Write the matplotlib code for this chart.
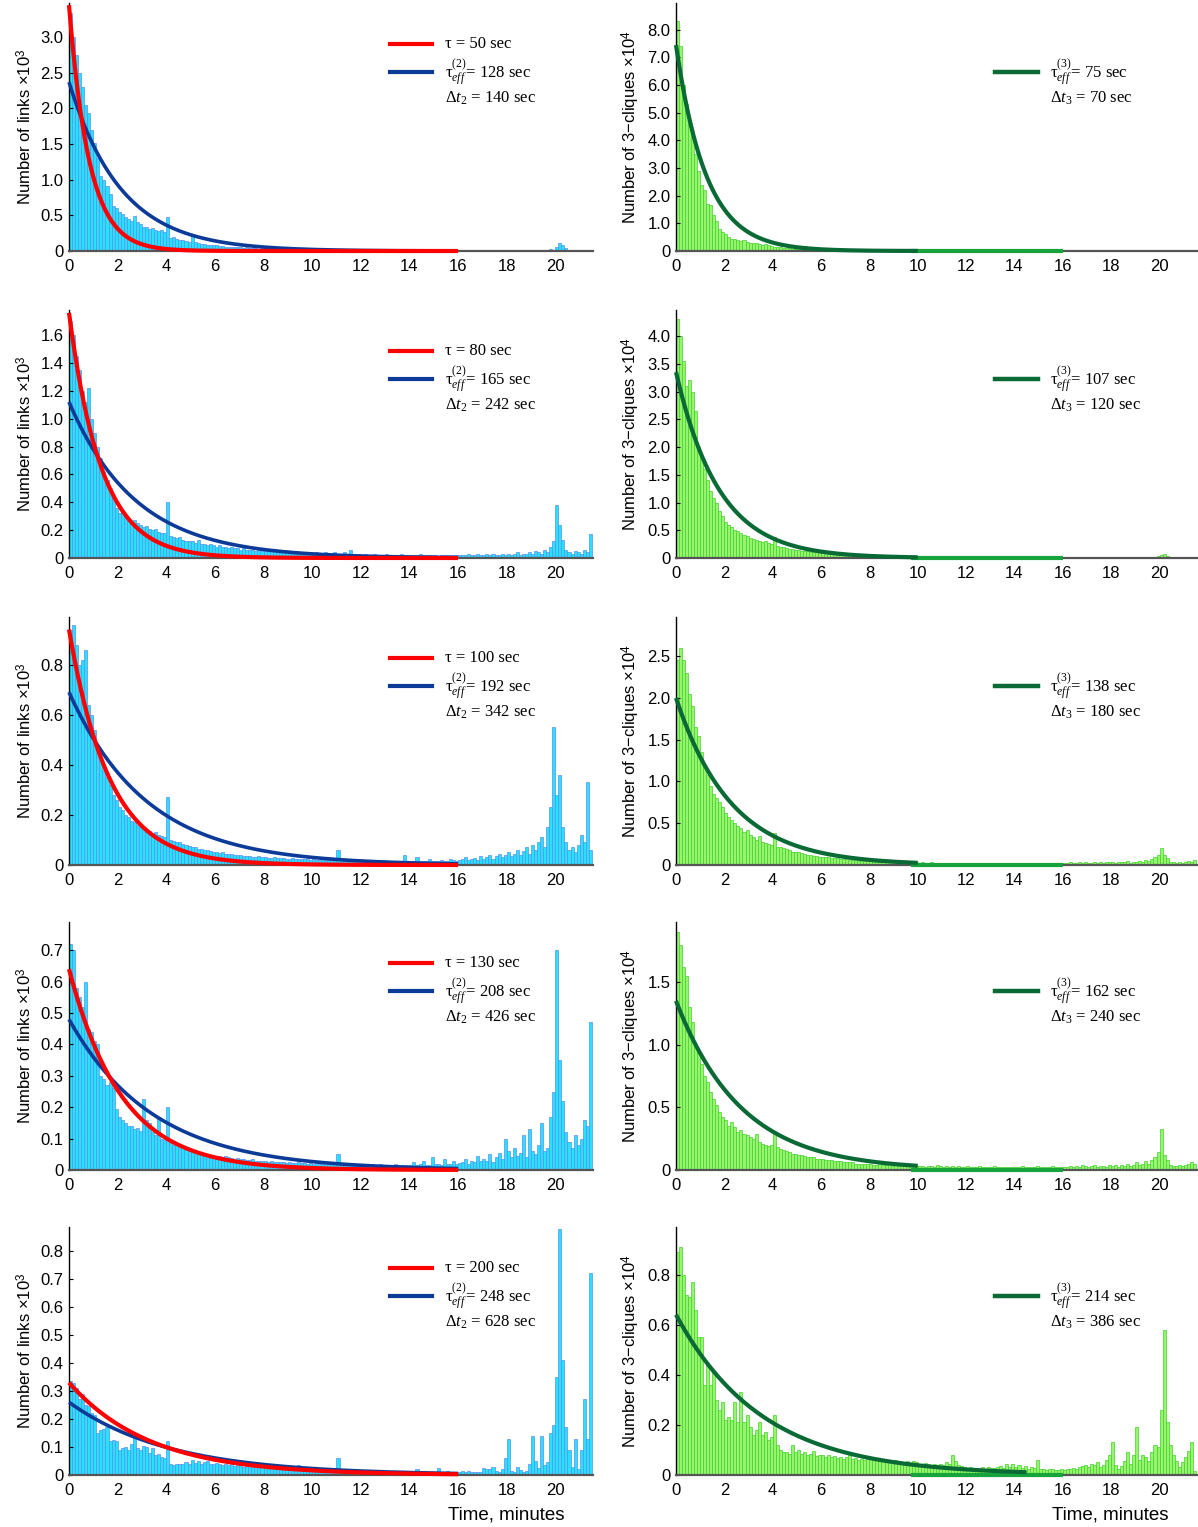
import numpy as np
import matplotlib
matplotlib.use('Agg')
import matplotlib.pyplot as plt

plt.rcParams['font.family'] = ['Liberation Sans', 'DejaVu Sans']
plt.rcParams['mathtext.fontset'] = 'custom'
plt.rcParams['mathtext.rm'] = 'Liberation Serif'
plt.rcParams['mathtext.it'] = 'Liberation Serif:italic'
plt.rcParams['mathtext.sf'] = 'Liberation Sans'

BIN = 0.125  # bin width, minutes

# ---- histogram heights, one list per panel ----
# left column: links, units of 0.01 (row 1,2) or 0.001 (rows 3-5) x10^3
links_50 = [334, 300, 275, 250, 230, 205, 194, 170, 152, 130, 105, 100, 91, 80, 63, 60,
            55, 52, 48, 45, 42, 49, 40, 38, 34, 33, 31, 32, 30, 28, 29, 27,
            48, 18, 20, 17, 16, 15, 14, 13, 21, 12, 11, 10, 10, 9, 9, 8,
            8, 7, 7, 6, 6, 5, 6, 5, 5, 4, 6, 4, 4, 4, 3, 4,
            3, 3, 3, 5, 3, 3, 2, 3, 2, 2, 2, 3, 2, 2, 2, 2,
            2, 2, 4, 1, 2, 1, 1, 2, 3, 1, 1, 2, 1, 1, 1, 1,
            1, 1, 2, 1, 1, 1, 1, 1, 2, 1, 1, 1, 1, 1, 2, 1,
            1, 1, 1, 1, 1, 2, 1, 1, 1, 1, 1, 1, 1, 1, 1, 1,
            1, 0, 1, 1, 1, 0, 1, 1, 1, 1, 0, 1, 1, 1, 1, 1,
            1, 1, 1, 1, 1, 1, 1, 1, 1, 1, 1, 1, 1, 2, 3, 2,
            6, 11, 8, 4, 2, 1, 1, 1, 1, 1, 1, 2]
links_80 = [170, 160, 145, 135, 120, 112, 122, 100, 90, 80, 72, 62, 56, 50, 44, 36,
            32, 34, 30, 28, 26, 27, 25, 24, 22, 23, 21, 20, 21, 19, 18, 18,
            40, 16, 15, 14, 15, 13, 12, 12, 12, 11, 13, 10, 10, 9, 10, 9,
            8, 9, 8, 8, 7, 8, 7, 7, 6, 7, 6, 6, 6, 5, 6, 5,
            5, 6, 5, 5, 4, 5, 5, 4, 4, 5, 4, 4, 4, 3, 4, 4,
            3, 4, 3, 3, 4, 3, 3, 4, 3, 3, 4, 3, 6, 3, 2, 3,
            2, 3, 2, 2, 3, 2, 2, 2, 3, 2, 2, 2, 2, 3, 2, 2,
            2, 2, 2, 3, 2, 2, 2, 2, 2, 1, 2, 2, 2, 2, 2, 2,
            2, 2, 2, 3, 2, 2, 3, 2, 2, 3, 2, 3, 2, 2, 3, 2,
            3, 2, 3, 4, 2, 3, 3, 4, 3, 5, 4, 3, 6, 4, 8, 12,
            38, 24, 13, 6, 4, 3, 5, 4, 3, 6, 4, 17]
links_100 = [940, 960, 880, 800, 820, 860, 640, 600, 540, 470, 420, 380, 350, 320, 280, 260,
             230, 220, 200, 190, 175, 170, 160, 150, 150, 140, 135, 125, 130, 120, 115, 110,
             270, 100, 95, 90, 90, 85, 80, 75, 70, 72, 65, 62, 60, 58, 55, 52,
             50, 48, 50, 45, 43, 45, 40, 38, 40, 36, 35, 36, 33, 32, 34, 30,
             30, 29, 28, 30, 27, 26, 28, 25, 24, 26, 23, 24, 22, 23, 22, 21,
             22, 20, 21, 22, 20, 19, 20, 18, 60, 20, 18, 19, 17, 18, 17, 16,
             18, 16, 17, 16, 15, 17, 15, 16, 15, 14, 16, 15, 14, 15, 40, 15,
             15, 16, 30, 15, 14, 16, 25, 15, 16, 15, 20, 17, 16, 25, 18, 17,
             20, 22, 30, 18, 25, 28, 20, 35, 22, 30, 40, 25, 35, 45, 30, 38,
             50, 35, 45, 60, 40, 55, 70, 45, 80, 60, 90, 110, 70, 150, 230, 550,
             280, 360, 150, 90, 60, 70, 50, 80, 120, 90, 330, 60]
links_130 = [720, 700, 580, 550, 520, 600, 450, 440, 410, 400, 300, 290, 270, 280, 260, 195,
             170, 160, 150, 140, 140, 130, 135, 125, 225, 160, 150, 120, 110, 170, 100, 95,
             200, 85, 80, 80, 75, 70, 72, 65, 60, 62, 58, 55, 52, 50, 48, 46,
             45, 44, 42, 45, 40, 38, 36, 38, 35, 34, 33, 32, 34, 30, 30, 28,
             28, 27, 28, 26, 25, 27, 24, 23, 25, 22, 22, 24, 21, 22, 20, 21,
             20, 21, 20, 19, 22, 20, 19, 18, 50, 20, 18, 19, 18, 17, 19, 18,
             17, 18, 16, 20, 17, 16, 18, 15, 17, 16, 15, 18, 16, 15, 17, 16,
             16, 25, 17, 18, 30, 16, 17, 40, 18, 20, 17, 35, 20, 18, 30, 20,
             22, 25, 35, 20, 30, 25, 45, 28, 35, 30, 50, 25, 40, 55, 35, 100,
             60, 40, 70, 45, 55, 110, 40, 130, 60, 50, 80, 150, 60, 70, 170, 250,
             700, 350, 220, 120, 90, 70, 110, 80, 100, 160, 140, 470]
links_200 = [335, 330, 310, 270, 290, 250, 245, 220, 215, 150, 160, 165, 170, 120, 125, 120,
             90, 95, 100, 90, 110, 150, 95, 90, 105, 100, 80, 95, 70, 75, 65, 60,
             120, 40, 36, 38, 40, 38, 45, 40, 55, 42, 50, 40, 45, 50, 38, 40,
             42, 40, 35, 38, 36, 40, 32, 34, 36, 30, 32, 35, 30, 28, 32, 30,
             28, 30, 26, 28, 25, 27, 24, 26, 22, 25, 24, 35, 22, 20, 22, 18,
             20, 18, 22, 17, 18, 20, 16, 18, 60, 18, 16, 17, 15, 18, 16, 14,
             15, 17, 14, 16, 15, 13, 16, 14, 15, 13, 14, 12, 13, 14, 12, 13,
             12, 14, 20, 11, 16, 12, 10, 11, 12, 25, 11, 10, 13, 10, 12, 12,
             10, 15, 12, 14, 10, 12, 11, 9, 25, 22, 20, 28, 15, 12, 22, 60,
             130, 15, 10, 30, 18, 12, 15, 40, 140, 50, 25, 140, 35, 45, 150, 180,
             350, 880, 410, 170, 90, 30, 130, 20, 90, 270, 130, 720]

# right column: 3-cliques, units of 0.01 (rows 1-4) or 0.001 (row 5) x10^4
cliques_1 = [833, 742, 600, 530, 460, 430, 350, 290, 240, 220, 170, 165, 130, 110, 80, 70,
             60, 50, 45, 42, 40, 35, 38, 32, 30, 28, 30, 25, 22, 24, 20, 18,
             16, 15, 14, 12, 11, 10, 9, 9, 8, 7, 7, 6, 6, 5, 5, 4,
             4, 4, 3, 3, 3, 3, 2, 2, 2, 2, 2, 2, 2, 1, 1, 1,
             1, 1, 1, 1, 1, 1, 1, 1, 1, 1, 1, 1, 1, 1, 1, 1,
             1, 1, 1, 0, 1, 1, 0, 1, 1, 0, 1, 0, 1, 0, 0, 1,
             0, 0, 1, 0, 0, 0, 1, 0, 0, 0, 0, 1, 0, 0, 0, 0,
             0, 0, 0, 0, 1, 0, 0, 0, 0, 0, 0, 0, 0, 1, 0, 0,
             0, 0, 0, 0, 0, 0, 0, 0, 0, 0, 0, 0, 0, 0, 0, 0,
             0, 0, 0, 0, 0, 0, 0, 0, 0, 0, 0, 0, 0, 0, 0, 0,
             0, 0, 0, 0, 0, 0, 0, 0, 0, 0, 0, 0]
cliques_2 = [430, 400, 355, 310, 320, 300, 265, 200, 180, 160, 140, 120, 108, 100, 85, 75,
             65, 60, 55, 50, 48, 45, 42, 40, 36, 35, 33, 30, 29, 30, 27, 25,
             38, 22, 20, 19, 18, 17, 16, 15, 14, 13, 12, 12, 11, 10, 10, 9,
             9, 8, 8, 7, 7, 6, 6, 6, 5, 5, 5, 4, 4, 4, 4, 3,
             3, 3, 3, 3, 2, 2, 2, 2, 2, 2, 2, 2, 1, 1, 1, 1,
             1, 1, 1, 1, 1, 1, 1, 1, 1, 1, 1, 1, 1, 1, 1, 1,
             1, 1, 0, 1, 1, 0, 1, 1, 0, 1, 1, 0, 1, 1, 0, 1,
             0, 1, 1, 0, 1, 0, 1, 1, 0, 1, 0, 1, 1, 0, 1, 0,
             1, 0, 1, 1, 0, 1, 2, 1, 0, 1, 1, 2, 1, 0, 1, 2,
             1, 0, 1, 2, 1, 1, 0, 1, 2, 1, 1, 2, 1, 2, 2, 3,
             5, 7, 4, 2, 1, 1, 2, 1, 1, 1, 2, 1]
cliques_3 = [245, 260, 245, 230, 205, 190, 165, 155, 135, 120, 108, 95, 85, 80, 75, 70,
             62, 58, 54, 50, 47, 44, 40, 42, 36, 33, 30, 35, 28, 26, 25, 24,
             38, 22, 21, 20, 19, 18, 16, 15, 15, 14, 13, 12, 12, 11, 11, 10,
             10, 9, 9, 8, 8, 8, 7, 7, 7, 6, 6, 6, 5, 5, 5, 5,
             5, 4, 4, 4, 4, 4, 3, 3, 3, 3, 3, 3, 3, 3, 2, 3,
             2, 3, 2, 2, 3, 2, 2, 2, 2, 2, 2, 2, 2, 2, 2, 2,
             2, 2, 1, 2, 2, 1, 2, 2, 1, 2, 2, 2, 1, 2, 2, 1,
             2, 1, 2, 2, 1, 2, 1, 2, 2, 1, 2, 1, 2, 2, 1, 2,
             2, 2, 3, 2, 2, 3, 2, 3, 2, 2, 4, 2, 3, 2, 3, 4,
             3, 2, 4, 3, 3, 5, 2, 4, 3, 5, 4, 6, 5, 7, 9, 12,
             20, 12, 8, 4, 3, 2, 3, 2, 3, 5, 4, 6]
cliques_4 = [190, 180, 162, 155, 130, 118, 100, 95, 85, 75, 70, 62, 57, 52, 46, 42,
             40, 35, 38, 34, 30, 32, 29, 28, 26, 25, 29, 22, 21, 20, 19, 20,
             30, 18, 17, 16, 15, 14, 13, 13, 12, 12, 11, 10, 10, 10, 9, 9,
             9, 8, 8, 8, 7, 7, 7, 6, 6, 6, 6, 5, 5, 5, 5, 5,
             5, 4, 4, 5, 4, 4, 4, 3, 4, 3, 3, 4, 3, 3, 3, 3,
             3, 3, 2, 3, 3, 2, 4, 3, 2, 3, 2, 3, 2, 3, 2, 2,
             3, 2, 2, 2, 3, 2, 2, 2, 2, 3, 2, 2, 2, 2, 2, 2,
             2, 2, 3, 2, 2, 2, 2, 3, 2, 2, 2, 2, 3, 2, 2, 2,
             2, 2, 3, 2, 3, 2, 4, 3, 2, 3, 4, 2, 3, 3, 2, 4,
             3, 4, 2, 4, 3, 5, 3, 4, 6, 4, 5, 7, 5, 8, 10, 14,
             33, 12, 8, 4, 3, 3, 4, 3, 4, 5, 6, 5]
cliques_5 = [890, 910, 800, 720, 710, 770, 660, 550, 550, 360, 440, 360, 410, 300, 260, 290,
             220, 230, 220, 290, 210, 330, 210, 240, 190, 160, 180, 210, 160, 170, 140, 150,
             240, 120, 100, 90, 90, 85, 120, 90, 100, 85, 90, 80, 85, 95, 75, 80,
             78, 72, 80, 70, 75, 68, 72, 65, 70, 90, 62, 66, 60, 64, 58, 62,
             62, 58, 60, 55, 58, 52, 56, 50, 60, 48, 52, 50, 54, 48, 55, 50,
             45, 40, 48, 42, 38, 45, 40, 44, 38, 50, 42, 80, 55, 40, 35, 30,
             28, 30, 25, 28, 22, 30, 25, 32, 28, 26, 30, 35, 28, 42, 32, 45,
             30, 40, 28, 35, 25, 30, 28, 60, 25, 22, 20, 25, 22, 20, 18, 22,
             20, 25, 22, 28, 24, 30, 35, 40, 32, 45, 38, 50, 30, 40, 60, 80,
             130, 40, 25, 35, 55, 90, 45, 80, 190, 60, 80, 70, 55, 90, 120, 110,
             260, 580, 210, 120, 80, 55, 30, 50, 70, 95, 130, 15]

# ---- fit parameters ----
tau_sec = [50, 80, 100, 130, 200]
tau_eff2_sec = [128, 165, 192, 208, 248]
dt2_sec = [140, 242, 342, 426, 628]
amp_tau = [3.45, 1.76, 0.94, 0.64, 0.33]
amp_eff2 = [2.37, 1.12, 0.69, 0.48, 0.26]

tau_eff3_sec = [75, 107, 138, 162, 214]
dt3_sec = [70, 120, 180, 240, 386]
amp_eff3 = [7.45, 3.35, 2.0, 1.35, 0.64]

links_data = [links_50, links_80, links_100, links_130, links_200]
links_scale = [0.01, 0.01, 0.001, 0.001, 0.001]
links_ylim = [3.48, 1.78, 0.99, 0.79, 0.886]
links_yticks = [np.arange(0, 3.01, 0.5), np.arange(0, 1.61, 0.2), np.arange(0, 0.81, 0.2),
                np.arange(0, 0.71, 0.1), np.arange(0, 0.81, 0.1)]

cliques_data = [cliques_1, cliques_2, cliques_3, cliques_4, cliques_5]
cliques_scale = [0.01, 0.01, 0.01, 0.01, 0.001]
cliques_ylim = [8.97, 4.47, 2.97, 1.98, 0.99]
cliques_yticks = [np.arange(0, 8.01, 1.0), np.arange(0, 4.01, 0.5), np.arange(0, 2.51, 0.5),
                  np.arange(0, 1.51, 0.5), np.arange(0, 0.81, 0.2)]
eff3_end = [10, 10, 10, 10, 14.5]

RED = '#ff0000'
BLUE = '#0b3a98'
DGREEN = '#0a6a36'
MGREEN = '#17a43c'
SERIF = 'Liberation Serif'


def setup_axes(ax, counts, scale, ylim, yticks, face, edge, ylabel):
    vals = np.array(counts) * scale
    edges = np.arange(len(vals)) * BIN
    ax.bar(edges, vals, width=BIN, align='edge', color=face, edgecolor=edge,
           linewidth=0.5, zorder=1)
    ax.set_xlim(0, 21.55)
    ax.set_ylim(0, ylim)
    ax.set_xticks(np.arange(0, 21, 2))
    ax.set_yticks(yticks)
    ax.set_yticklabels(['0' if abs(v) < 1e-9 else f'{v:.1f}' for v in yticks])
    for s in ['top', 'right']:
        ax.spines[s].set_visible(False)
    ax.spines['bottom'].set_color('#555555')
    ax.spines['bottom'].set_linewidth(1.6)
    ax.spines['left'].set_linewidth(1.0)
    ax.tick_params(axis='x', length=0, labelsize=12, pad=6)
    ax.tick_params(axis='y', direction='in', length=3, width=0.8, labelsize=12, pad=4)
    ax.set_ylabel(ylabel, fontsize=12, labelpad=4)


fig = plt.figure(figsize=(11.98, 15.27), dpi=100)
W, H = 1198.0, 1527.0
row_bottoms = [251, 558, 865, 1170, 1475]
ax_h = 248

for r in range(5):
    yb = 1 - row_bottoms[r] / H
    # left: links
    ax = fig.add_axes([69 / W, yb, 524 / W, ax_h / H])
    setup_axes(ax, links_data[r], links_scale[r], links_ylim[r], links_yticks[r],
               '#26e2fc', '#5a8ef2', 'Number of links \u00d710$^{\\mathsf{3}}$')
    t_b = np.linspace(0, 16, 400)
    ax.plot(t_b, amp_eff2[r] * np.exp(-t_b * 60 / tau_eff2_sec[r]), color=BLUE,
            lw=2.6, zorder=3, clip_on=False, solid_capstyle='butt')
    t_r = np.linspace(0, 16, 400)
    ax.plot(t_r, amp_tau[r] * np.exp(-t_r * 60 / tau_sec[r]), color=RED,
            lw=3.0, zorder=4, clip_on=False, solid_capstyle='butt')
    # legend
    ax.plot([0.613, 0.693], [0.835, 0.835], color=RED, lw=3.0, transform=ax.transAxes,
            clip_on=False)
    ax.plot([0.613, 0.693], [0.722, 0.722], color=BLUE, lw=3.0, transform=ax.transAxes,
            clip_on=False)
    ax.text(0.718, 0.835, f'\u03c4 = {tau_sec[r]} sec', transform=ax.transAxes,
            fontsize=12, family=SERIF, va='center')
    ax.text(0.718, 0.722, '\u03c4$_{eff}^{\\mathrm{(2)}}$= ' + f'{tau_eff2_sec[r]} sec',
            transform=ax.transAxes, fontsize=12, family=SERIF, va='center')
    ax.text(0.718, 0.617, '\u0394$t_{\\mathrm{2}}$ = ' + f'{dt2_sec[r]} sec',
            transform=ax.transAxes, fontsize=12, family=SERIF, va='center')
    if r == 4:
        ax.text(0.835, -0.16, 'Time, minutes', transform=ax.transAxes, ha='center',
                va='center', fontsize=13.5)

    # right: 3-cliques
    ax = fig.add_axes([676 / W, yb, 521 / W, ax_h / H])
    setup_axes(ax, cliques_data[r], cliques_scale[r], cliques_ylim[r], cliques_yticks[r],
               '#97f46e', '#42d12c', 'Number of 3\u2212cliques \u00d710$^{\\mathsf{4}}$')
    ax.plot([9.7, 16], [0, 0], color=MGREEN, lw=3.0, zorder=3, clip_on=False,
            solid_capstyle='butt')
    t_g = np.linspace(0, eff3_end[r], 300)
    ax.plot(t_g, amp_eff3[r] * np.exp(-t_g * 60 / tau_eff3_sec[r]), color=DGREEN,
            lw=3.0, zorder=4, clip_on=False, solid_capstyle='butt')
    ax.plot([0.612, 0.695], [0.722, 0.722], color=DGREEN, lw=3.2, transform=ax.transAxes,
            clip_on=False)
    ax.text(0.718, 0.722, '\u03c4$_{eff}^{\\mathrm{(3)}}$= ' + f'{tau_eff3_sec[r]} sec',
            transform=ax.transAxes, fontsize=12, family=SERIF, va='center')
    ax.text(0.718, 0.617, '\u0394$t_{\\mathrm{3}}$ = ' + f'{dt3_sec[r]} sec',
            transform=ax.transAxes, fontsize=12, family=SERIF, va='center')
    if r == 4:
        ax.text(0.833, -0.16, 'Time, minutes', transform=ax.transAxes, ha='center',
                va='center', fontsize=13.5)

fig.savefig('out.png', dpi=100)
